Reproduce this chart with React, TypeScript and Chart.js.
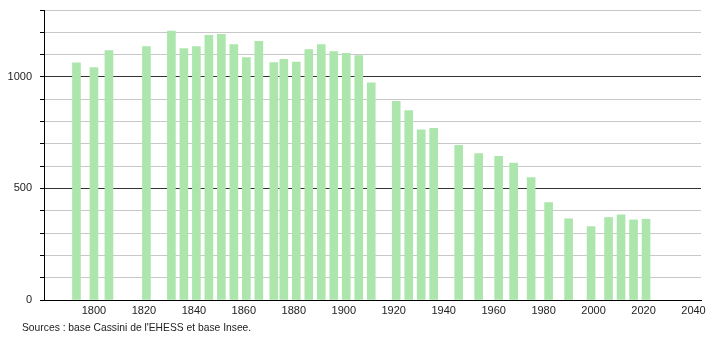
import React, { useEffect, useRef } from "react";
import { Chart, registerables } from "chart.js";

Chart.register(...registerables);

const years = [1793, 1800, 1806, 1821, 1831, 1836, 1841, 1846, 1851, 1856, 1861, 1866, 1872, 1876, 1881, 1886, 1891, 1896, 1901, 1906, 1911, 1921, 1926, 1931, 1936, 1946, 1954, 1962, 1968, 1975, 1982, 1990, 1999, 2006, 2011, 2016, 2021];
const population = [1063, 1042, 1118, 1136, 1206, 1127, 1136, 1187, 1191, 1145, 1087, 1159, 1064, 1079, 1067, 1123, 1145, 1114, 1106, 1096, 973, 891, 849, 763, 769, 693, 656, 644, 614, 549, 437, 364, 329, 370, 382, 359, 362];
const xTickValues = [1800, 1820, 1840, 1860, 1880, 1900, 1920, 1940, 1960, 1980, 2000, 2020, 2040];
const yLabelValues = [0, 500, 1000];
const sourceText = "Sources : base Cassini de l'EHESS et base Insee.";

export default function App() {
  const canvasRef = useRef<HTMLCanvasElement | null>(null);

  useEffect(() => {
    if (!canvasRef.current) return;
    const chart = new Chart(canvasRef.current, {
      type: "bar",
      data: {
        datasets: [
          {
            data: years.map((y, i) => ({ x: y, y: population[i] })),
            backgroundColor: "#ade6ad",
            borderWidth: 0,
            barThickness: 8,
          },
        ],
      },
      options: {
        animation: false,
        responsive: false,
        maintainAspectRatio: false,
        layout: { autoPadding: false, padding: { left: 0, right: 9, top: 10, bottom: 0 } },
        plugins: { legend: { display: false }, tooltip: { enabled: false } },
        scales: {
          x: {
            type: "linear",
            min: 1780,
            max: 2043,
            offset: false,
            afterBuildTicks: (s: any) => {
              s.ticks = xTickValues.map((v) => ({ value: v }));
            },
            afterFit: (s: any) => {
              s.height = 40;
              s.paddingLeft = 0;
              s.paddingRight = 0;
            },
            ticks: {
              autoSkip: false,
              maxRotation: 0,
              padding: 4,
              color: "#222",
              font: { family: "Liberation Sans, Arial, sans-serif", size: 11 },
              callback: (v: any) => String(v),
            },
            grid: { display: false, drawTicks: false },
            border: { display: true, color: "#000", width: 1 },
          },
          y: {
            type: "linear",
            min: 0,
            max: 1300,
            afterFit: (s: any) => {
              s.width = 44;
              s.paddingTop = 0;
              s.paddingBottom = 0;
            },
            ticks: {
              stepSize: 100,
              autoSkip: false,
              padding: 8,
              color: "#222",
              font: { family: "Liberation Sans, Arial, sans-serif", size: 11 },
              callback: (v: any) => (yLabelValues.includes(Number(v)) ? String(v) : ""),
            },
            grid: {
              color: (ctx: any) => {
                const v = ctx.tick ? ctx.tick.value : 0;
                if (v === 0) return "#000";
                return v % 500 === 0 ? "#333" : "#c8c8c8";
              },
              lineWidth: 1,
              tickLength: 4,
              tickColor: "#000",
            },
            border: { display: true, color: "#000", width: 1 },
          },
        },
      },
    });
    return () => chart.destroy();
  }, []);

  return (
    <div style={{ position: "absolute", left: 0, top: 0, width: 710, height: 340, background: "#fff" }}>
      <canvas ref={canvasRef} width={710} height={340} style={{ display: "block" }} />
      <div
        style={{
          position: "absolute",
          left: 22,
          top: 322,
          fontFamily: "Liberation Sans, Arial, sans-serif",
          fontSize: 10.3,
          color: "#222",
          whiteSpace: "nowrap",
        }}
      >
        {sourceText}
      </div>
    </div>
  );
}
